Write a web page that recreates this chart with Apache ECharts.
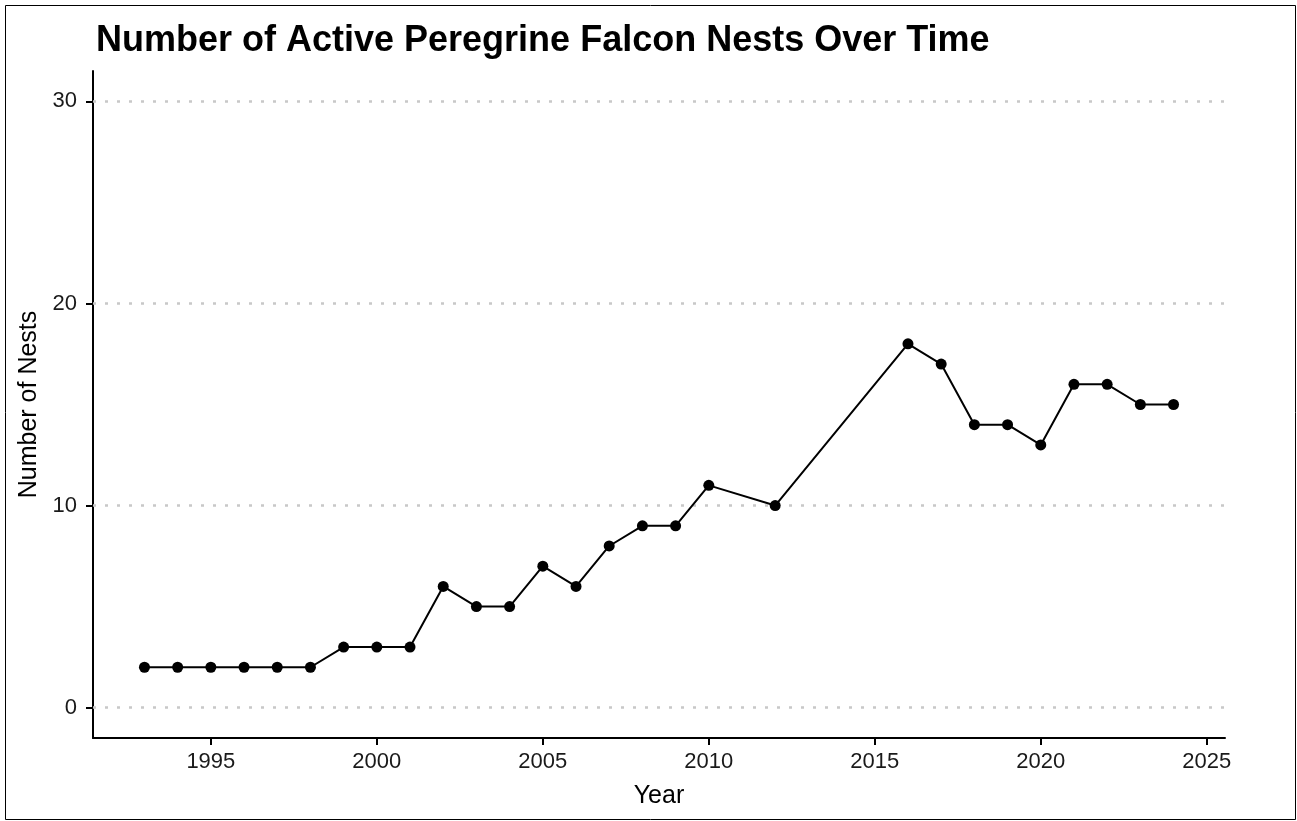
<!DOCTYPE html>
<html><head><meta charset="utf-8">
<script src="https://cdn.jsdelivr.net/npm/echarts@6/dist/echarts.min.js"></script>
<style>html,body{margin:0;padding:0;background:#fff}#c{width:1297px;height:821px}</style>
</head><body><div id="c"></div>
<script>
const years = [1993,1994,1995,1996,1997,1998,1999,2000,2001,2002,2003,2004,2005,2006,2007,2008,2009,2010,2012,2016,2017,2018,2019,2020,2021,2022,2023,2024];
const nests = [2,2,2,2,2,2,3,3,3,6,5,5,7,6,8,9,9,11,10,18,17,14,14,13,16,16,15,15];
const xTicks = [1995,2000,2005,2010,2015,2020,2025];
const yTicks = [0,10,20,30];

const chart = echarts.init(document.getElementById('c'));
chart.setOption({
  animation: false,
  backgroundColor: '#fff',
  title: {
    text: 'Number of Active Peregrine Falcon Nests Over Time',
    left: 91, top: 18,
    textStyle: {fontFamily: 'Liberation Sans', fontWeight: 'bold', fontSize: 36, color: '#000'}
  },
  graphic: [{type: 'rect', shape: {x: 5.5, y: 5.5, width: 1290, height: 814}, style: {fill: null, stroke: '#000', lineWidth: 1}, silent: true}],
  grid: {left: 93, right: 72, top: 71, bottom: 83, containLabel: false},
  xAxis: {
    type: 'value', min: 1991.45, max: 2025.55,
    name: 'Year', nameLocation: 'middle', nameGap: 46,
    nameTextStyle: {fontFamily: 'Liberation Sans', fontSize: 25, color: '#000'},
    axisLine: {show: true, onZero: false, lineStyle: {color: '#000', width: 2}},
    axisTick: {show: true, length: 7, lineStyle: {color: '#000', width: 2}, customValues: xTicks},
    axisLabel: {fontFamily: 'Liberation Sans', fontSize: 22, color: '#1a1a1a', margin: 13, customValues: xTicks, formatter: v => String(v)},
    splitLine: {show: false}
  },
  yAxis: {
    type: 'value', min: -1.5, max: 31.5,
    name: 'Number of Nests', nameLocation: 'middle', nameGap: 48,
    nameTextStyle: {fontFamily: 'Liberation Sans', fontSize: 25, color: '#000'},
    axisLine: {show: true, onZero: false, lineStyle: {color: '#000', width: 2}},
    axisTick: {show: true, length: 7, lineStyle: {color: '#000', width: 2}, customValues: yTicks},
    axisLabel: {fontFamily: 'Liberation Sans', fontSize: 22, color: '#1a1a1a', margin: 16, customValues: yTicks, formatter: v => String(v)},
    splitLine: {show: false}
  },
  series: [{
    type: 'line',
    data: [],
    z: 1,
    markLine: {
      silent: true, symbol: 'none', label: {show: false}, z: 1,
      lineStyle: {color: '#c8c8c8', type: [3, 9], width: 2.5},
      data: yTicks.map(v => ({yAxis: v}))
    }
  }, {
    type: 'line',
    data: years.map((y, i) => [y, nests[i]]),
    symbol: 'circle', symbolSize: 11,
    lineStyle: {color: '#000', width: 2},
    itemStyle: {color: '#000'},
    z: 5
  }]
});
</script></body></html>
